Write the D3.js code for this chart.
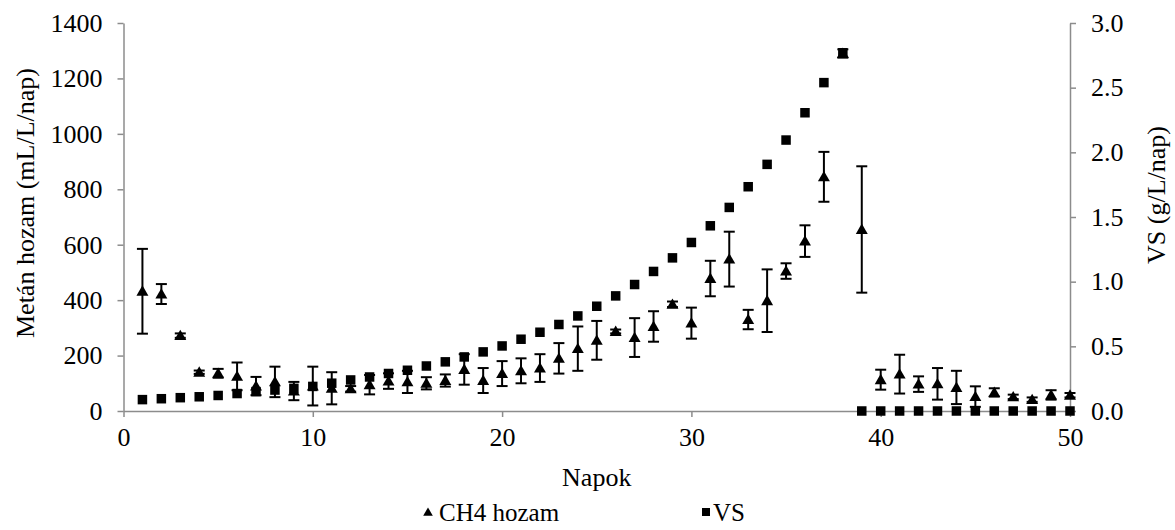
<!DOCTYPE html>
<html>
<head>
<meta charset="utf-8">
<script src="https://cdn.jsdelivr.net/npm/d3@7"></script>
<style>
  html, body { margin: 0; padding: 0; background: #fff; }
  #chart text { font-family: "Liberation Serif", "Times New Roman", Tinos, serif !important; fill: #000; }
</style>
</head>
<body>
<svg id="chart" width="1175" height="530"></svg>
<script>
const days = [1,2,3,4,5,6,7,8,9,10,11,12,13,14,15,16,17,18,19,20,21,22,23,24,25,26,27,28,29,30,31,32,33,34,35,36,37,38,39,40,41,42,43,44,45,46,47,48,49,50];
const ch4 = [432,422,272,140,136,125,90,105,72,90,82,80,95,108,105,100,110,150,110,135,145,155,190,225,255,287,265,305,385,317,478,548,330,398,505,613,845,1290,655,113,133,97,98,85,52,67,51,41,58,57];
const ch4Err = [153,36,8,6,16,50,33,55,33,70,58,10,35,28,40,22,22,55,45,45,45,50,55,80,70,7,70,55,10,56,64,99,35,113,28,57,90,15,228,36,70,28,57,60,37,15,8,8,17,8];
const vs = [0.088,0.095,0.103,0.110,0.120,0.135,0.150,0.162,0.175,0.190,0.215,0.240,0.263,0.290,0.315,0.348,0.380,0.418,0.457,0.503,0.555,0.609,0.669,0.735,0.810,0.890,0.978,1.079,1.184,1.303,1.432,1.574,1.734,1.907,2.095,2.306,2.539,2.770,0,0,0,0,0,0,0,0,0,0,0,0];
const xTicks = [0,10,20,30,40,50];
const yLeftTicks = [0,200,400,600,800,1000,1200,1400];
const yRightTicks = [0,0.5,1.0,1.5,2.0,2.5,3.0];
const labels = { x: "Napok", yLeft: "Metán hozam (mL/L/nap)", yRight: "VS (g/L/nap)", s1: "CH4 hozam", s2: "VS" };

const svg = d3.select("#chart");
const FS = 26;
const FONT = "Liberation Serif";
const axisColor = "#8c8c8c";

const x = d3.scaleLinear().domain([0, 50]).range([123.5, 1070]);
const yL = d3.scaleLinear().domain([0, 1400]).range([411, 23]);
const yR = d3.scaleLinear().domain([0, 3]).range([411, 23]);

function styleText(sel, size) {
  sel.style("font-family", FONT).style("font-size", size + "px").style("fill", "#000");
}

function styleAxis(g) {
  g.attr("font-family", null);
  g.select(".domain").attr("stroke", axisColor).attr("stroke-width", 1.5);
  g.selectAll(".tick line").attr("stroke", axisColor).attr("stroke-width", 1.5);
  g.selectAll("text").call(styleText, FS);
}

svg.append("g").attr("transform", "translate(0,411)")
  .call(d3.axisBottom(x).tickValues(xTicks).tickSize(6).tickSizeOuter(0).tickPadding(11).tickFormat(d3.format("d")))
  .call(styleAxis);

svg.append("g").attr("transform", "translate(123.5,0)")
  .call(d3.axisLeft(yL).tickValues(yLeftTicks).tickSize(6).tickSizeOuter(0).tickPadding(15).tickFormat(d3.format("d")))
  .call(styleAxis);

svg.append("g").attr("transform", "translate(1070,0)")
  .call(d3.axisRight(yR).tickValues(yRightTicks).tickSize(6).tickSizeOuter(0).tickPadding(15).tickFormat(d3.format(".1f")))
  .call(styleAxis);

const plot = svg.append("g");

// VS squares
const sq = 9.5;
plot.selectAll("rect.vs").data(days).join("rect")
  .attr("class", "vs")
  .attr("x", (d, i) => x(d) - sq / 2)
  .attr("y", (d, i) => yR(vs[i]) - sq / 2)
  .attr("width", sq).attr("height", sq)
  .attr("fill", "#000");

// CH4 error bars
const cap = 5.5;
const eb = plot.selectAll("g.eb").data(days).join("g").attr("class", "eb");
eb.append("line")
  .attr("x1", d => x(d)).attr("x2", d => x(d))
  .attr("y1", (d, i) => yL(ch4[i] + ch4Err[i]))
  .attr("y2", (d, i) => yL(Math.max(0, ch4[i] - ch4Err[i])))
  .attr("stroke", "#000").attr("stroke-width", 2);
eb.append("line")
  .attr("x1", d => x(d) - cap).attr("x2", d => x(d) + cap)
  .attr("y1", (d, i) => yL(ch4[i] + ch4Err[i]))
  .attr("y2", (d, i) => yL(ch4[i] + ch4Err[i]))
  .attr("stroke", "#000").attr("stroke-width", 2);
eb.append("line")
  .attr("x1", d => x(d) - cap).attr("x2", d => x(d) + cap)
  .attr("y1", (d, i) => yL(Math.max(0, ch4[i] - ch4Err[i])))
  .attr("y2", (d, i) => yL(Math.max(0, ch4[i] - ch4Err[i])))
  .attr("stroke", "#000").attr("stroke-width", 2);

// CH4 triangles
const tri = d3.symbol().type(d3.symbolTriangle).size(62);
plot.selectAll("path.ch4").data(days).join("path")
  .attr("class", "ch4")
  .attr("d", tri)
  .attr("transform", (d, i) => `translate(${x(d)},${yL(ch4[i]) + 1})`)
  .attr("fill", "#000");

// Axis titles
svg.append("text").attr("x", (123.5 + 1070) / 2).attr("y", 486)
  .attr("text-anchor", "middle").call(styleText, FS).text(labels.x);
svg.append("text").attr("transform", "translate(34,203) rotate(-90)")
  .attr("text-anchor", "middle").call(styleText, FS).text(labels.yLeft);
svg.append("text").attr("transform", "translate(1165,195) rotate(-90)")
  .attr("text-anchor", "middle").call(styleText, FS).text(labels.yRight);

// Legend
const lg = svg.append("g");
lg.append("path").attr("d", d3.symbol().type(d3.symbolTriangle).size(40))
  .attr("transform", "translate(428,513)").attr("fill", "#000");
lg.append("text").attr("x", 439).attr("y", 521).call(styleText, 25).text(labels.s1);
lg.append("rect").attr("x", 702).attr("y", 508).attr("width", 8).attr("height", 8).attr("fill", "#000");
lg.append("text").attr("x", 713).attr("y", 521).call(styleText, 25).text(labels.s2);
</script>
</body>
</html>
